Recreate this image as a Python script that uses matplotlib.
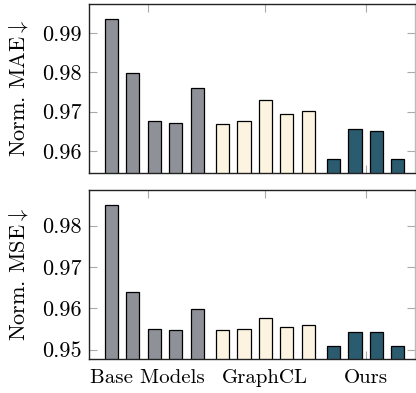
import matplotlib
matplotlib.use("Agg")
import matplotlib.pyplot as plt
import numpy as np

plt.rcParams['font.family'] = 'serif'
plt.rcParams['font.serif'] = ['cmr10']
plt.rcParams['mathtext.fontset'] = 'cm'
plt.rcParams['axes.formatter.use_mathtext'] = True
plt.rcParams['axes.unicode_minus'] = False

groups = ["Base Models", "GraphCL", "Ours"]
group_sizes = [5, 5, 4]
mae_values = [0.9937, 0.9798, 0.9676, 0.9672, 0.9759,
              0.9668, 0.9676, 0.9730, 0.9694, 0.9703,
              0.9580, 0.9655, 0.9650, 0.9580]
mse_values = [0.9850, 0.9640, 0.9549, 0.9548, 0.9599,
              0.9548, 0.9549, 0.9577, 0.9556, 0.9560,
              0.9510, 0.9543, 0.9543, 0.9510]
group_colors = ["#8f9199", "#fcf4e0", "#2b5b6f"]
mae_ticks = [0.96, 0.97, 0.98, 0.99]
mse_ticks = [0.95, 0.96, 0.97, 0.98]
xtick_pos = [1.69, 7.2, 11.9]

group_step = 5.2
xs, cols = [], []
for g, n in enumerate(group_sizes):
    pos = [g * group_step + i for i in range(n)]
    xs += pos
    cols += [group_colors[g]] * n
xs = np.array(xs)

W, H = 416, 393
fig = plt.figure(figsize=(W / 100, H / 100), dpi=100)
ax1 = fig.add_axes([89 / W, (H - 173) / H, (415 - 89) / W, (173 - 4) / H])
ax2 = fig.add_axes([89 / W, (H - 359) / H, (415 - 89) / W, (359 - 190) / H])

def style(ax, vals, ticks, ylim, label, show_x):
    ax.bar(xs, vals, width=0.61, color=cols, edgecolor="black", linewidth=0.9, zorder=2)
    ax.set_xlim(-1.06, 14.21)
    ax.set_ylim(*ylim)
    ax.set_yticks(ticks)
    ax.set_yticklabels([f"{t:.2f}" for t in ticks])
    ax.set_xticks(xtick_pos)
    if show_x:
        ax.set_xticklabels(groups)
    else:
        ax.set_xticklabels([])
    ax.tick_params(direction="in", length=5.5, width=0.8, color="#aaaaaa",
                   top=True, right=True, pad=5)
    ax.tick_params(axis="y", labelsize=16)
    ax.tick_params(axis="x", labelsize=15, pad=7)
    for s in ["left", "top", "bottom"]:
        ax.spines[s].set_color("#222222")
        ax.spines[s].set_linewidth(1.0)
    ax.spines["right"].set_color("#bbbbbb")
    ax.spines["right"].set_linewidth(1.0)
    ax.set_ylabel(label, fontsize=16, labelpad=9)

style(ax1, mae_values, mae_ticks, (0.9544, 0.9974), r"Norm. MAE$\downarrow$", False)
style(ax2, mse_values, mse_ticks, (0.94775, 0.98864), r"Norm. MSE$\downarrow$", True)

fig.savefig("out.png", dpi=100)
